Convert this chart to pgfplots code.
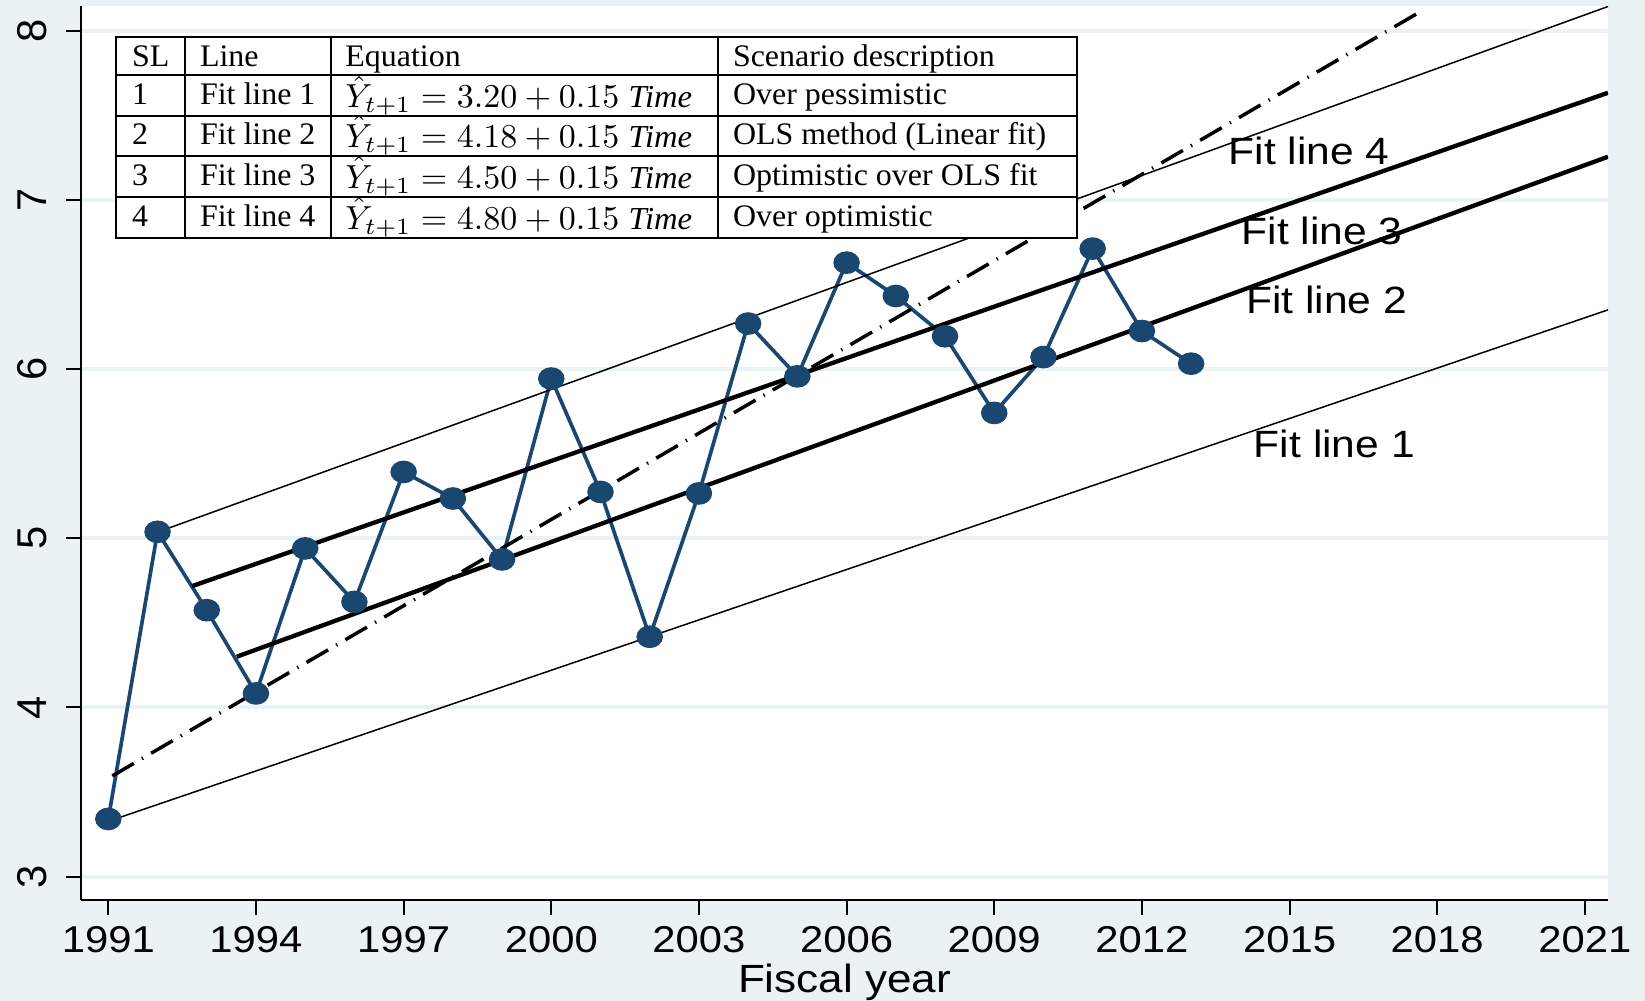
\documentclass[border=0pt]{standalone}
\usepackage{fontspec}
\setmainfont{Liberation Sans}
\newfontfamily\serif{Liberation Serif}
\usepackage{pgfplots}
\pgfplotsset{compat=1.18}
\definecolor{bgc}{HTML}{EAF2F3}
\definecolor{navy}{HTML}{1A476F}
\newcommand\tf{\serif\fontsize{9.4}{11}\selectfont}
\newcommand\eqf{\fontsize{9.6}{11}\selectfont}
\newcommand\eq[1]{\eqf$\hat{Y}_{t+1} = #1 + 0.15\;\hbox{\serif\itshape Time}$}
\begin{document}
\begin{tikzpicture}
\fill[bgc] (-24.3pt,-30.3pt) rectangle (469.2pt,270pt);
\begin{axis}[
 at={(0pt,0pt)}, anchor=south west, scale only axis,
 width=458.1pt, height=268.2pt,
 xmin=1990.445, xmax=2021.47, ymin=2.862, ymax=8.146,
 axis x line*=bottom, axis y line*=left,
 axis line style={-, line width=0.6pt},
 axis background/.style={fill=white},
 xtick={1991,1994,...,2021}, ytick={3,4,5,6,7,8},
 tick align=outside, major tick length=4.5pt,
 tick style={line width=0.6pt, black},
 ymajorgrids, major grid style={color=bgc, line width=1.2pt},
 /pgf/number format/1000 sep={},
 /pgf/number format/assume math mode=true,
 xticklabel style={font=\fontsize{11.2}{13}\selectfont, xscale=1.12},
 yticklabel style={font=\fontsize{12.5}{14}\selectfont, rotate=90, anchor=south},
 yticklabel shift=2.2pt,
 xlabel={Fiscal year},
 xlabel style={at={(axis description cs:0.5,0)}, anchor=center, yshift=-24.6pt, font=\fontsize{11.8}{13}\selectfont, xscale=1.12},
]
\addplot[navy, line width=1.1pt, mark=*, mark size=2.85pt, mark options={xscale=1.2, fill=navy, draw=navy}] coordinates {
(1991,3.341) (1992,5.038) (1993,4.575) (1994,4.083) (1995,4.940) (1996,4.624)
(1997,5.392) (1998,5.235) (1999,4.875) (2000,5.944) (2001,5.274) (2002,4.418)
(2003,5.265) (2004,6.269) (2005,5.957) (2006,6.629) (2007,6.432) (2008,6.194)
(2009,5.741) (2010,6.071) (2011,6.712) (2012,6.225) (2013,6.032)};
\addplot[black, line width=0.45pt] coordinates {(1991.03,3.33) (2021.47,6.35)};
\addplot[black, line width=1.3pt] coordinates {(1993.61,4.30) (2021.47,7.255)};
\addplot[black, line width=1.3pt] coordinates {(1992.70,4.717) (2021.47,7.633)};
\addplot[black, line width=0.45pt] coordinates {(1991.98,5.034) (2021.47,8.143)};
\addplot[black, line width=1.05pt, dash pattern=on 7.5pt off 2.8pt on 0.4pt off 2.8pt] coordinates {(1991.08,3.595) (2017.66,8.113)};
\node[font=\fontsize{11.4}{13}\selectfont, xscale=1.12] at (axis cs:2015.40,7.292) {Fit line 4};
\node[font=\fontsize{11.4}{13}\selectfont, xscale=1.12] at (axis cs:2015.66,6.815) {Fit line 3};
\node[font=\fontsize{11.4}{13}\selectfont, xscale=1.12] at (axis cs:2015.75,6.406) {Fit line 2};
\node[font=\fontsize{11.4}{13}\selectfont, xscale=1.12] at (axis cs:2015.91,5.558) {Fit line 1};
\end{axis}
\begin{scope}[line width=0.6pt]
\fill[white] (10.65pt,198.69pt) rectangle (298.65pt,258.99pt);
\tikzset{tc/.style={anchor=base west, inner sep=0pt, xscale=1.02}}
\node[tc] at (15.0pt,250.0pt) {\tf SL};
\node[tc] at (35.4pt,250.0pt) {\tf Line};
\node[tc] at (79.0pt,250.0pt) {\tf Equation};
\node[tc] at (195.3pt,250.0pt) {\tf Scenario description};
\node[tc] at (15.0pt,238.6pt) {\tf 1};
\node[tc] at (35.4pt,238.6pt) {\tf Fit line 1};
\node[tc] at (79.0pt,237.7pt) {\eq{3.20}};
\node[tc] at (195.3pt,238.6pt) {\tf Over pessimistic};
\node[tc] at (15.0pt,226.7pt) {\tf 2};
\node[tc] at (35.4pt,226.7pt) {\tf Fit line 2};
\node[tc] at (79.0pt,225.8pt) {\eq{4.18}};
\node[tc] at (195.3pt,226.7pt) {\tf OLS method (Linear fit)};
\node[tc] at (15.0pt,214.4pt) {\tf 3};
\node[tc] at (35.4pt,214.4pt) {\tf Fit line 3};
\node[tc] at (79.0pt,213.5pt) {\eq{4.50}};
\node[tc] at (195.3pt,214.4pt) {\tf Optimistic over OLS fit};
\node[tc] at (15.0pt,202.1pt) {\tf 4};
\node[tc] at (35.4pt,202.1pt) {\tf Fit line 4};
\node[tc] at (79.0pt,201.2pt) {\eq{4.80}};
\node[tc] at (195.3pt,202.1pt) {\tf Over optimistic};
\draw (10.65pt,198.69pt) rectangle (298.65pt,258.99pt);
\foreach \y in {247.5,235.2,223.29,210.99} \draw (10.65pt,\y pt) -- (298.65pt,\y pt);
\foreach \x in {31.14,75.0,191.07} \draw (\x pt,198.69pt) -- (\x pt,258.99pt);
\end{scope}
\pgfresetboundingbox
\path[use as bounding box] (-24.3pt,-30.3pt) rectangle (469.2pt,270pt);
\end{tikzpicture}
\end{document}
